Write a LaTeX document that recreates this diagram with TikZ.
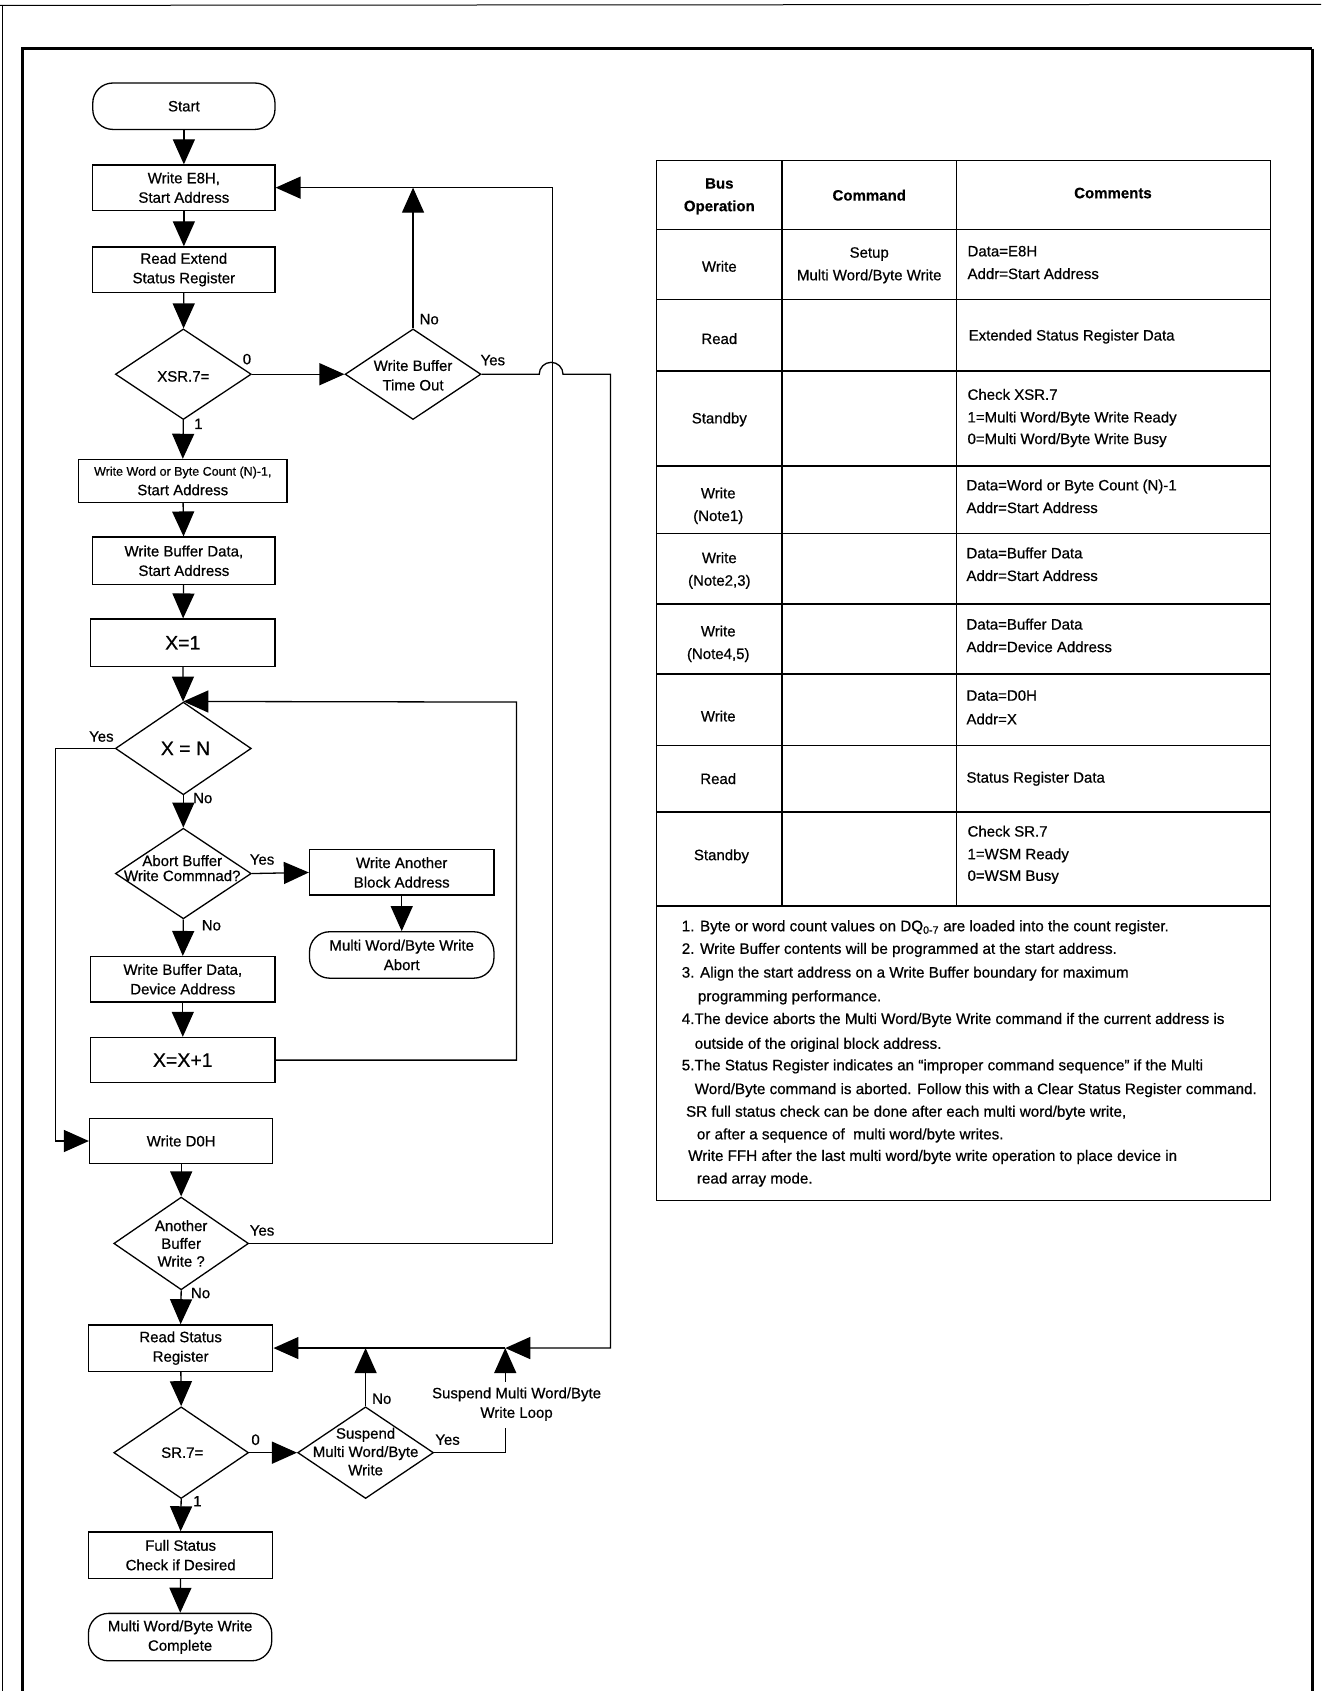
\documentclass[tikz,border=0pt]{standalone}
\usepackage{fontspec}
\setmainfont{Liberation Sans}[FakeBold=0.6]
\usetikzlibrary{arrows.meta,shapes.geometric}
\newcommand\fBox{\fontsize{15}{19.5}\selectfont}
\newcommand\fBig{\fontsize{19.5}{22}\selectfont}
\newcommand\fSmall{\fontsize{12.5}{19.5}\selectfont}
\newcommand\fTab{\fontsize{15}{22.6}\selectfont}
\newcommand\fNote{\fontsize{15.2}{22}\selectfont}
\begin{document}
\begin{tikzpicture}[x=1.0784pt,y=-1.0784pt,
  ln/.style={line width=1.3pt},
  arr/.style={ln,-{Triangle[length=25pt,width=22pt]}},
  box/.style={draw,ln,rectangle,align=center,inner sep=0pt,font=\fBox},
  term/.style={box,rounded corners=20pt},
  dia/.style={draw,ln,diamond,inner sep=0pt},
  txt/.style={align=center,inner sep=0pt,font=\fBox},
  lab/.style={inner sep=0pt,font=\fBox},
  cell/.style={align=center,inner sep=0pt,font=\fTab},
  cmt/.style={anchor=west,inner sep=0pt,font=\fTab,text height=11pt,text depth=3pt},
  note/.style={anchor=west,inner sep=0pt,font=\fNote,text height=10.5pt,text depth=3pt},
]
\useasboundingbox (0,0) rectangle (1225,1568);
% page frames
\draw[line width=1pt] (0,5) -- (1225,4);
\draw[line width=1pt] (2.5,5) -- (2.5,1568);
\draw[line width=3.5pt] (21,1568) -- (21,45) -- (1217,45);
\draw[line width=2.2pt] (1217,45) -- (1217,1568);

% ---------- flowchart nodes ----------
\node[term,minimum width=182.2pt,minimum height=46.4pt] (start) at (170.5,98.5) {Start};
\node[box,minimum width=182.2pt,minimum height=45.3pt] (we8) at (170.5,174) {Write E8H,\\Start Address};
\node[box,minimum width=182.2pt,minimum height=45.3pt] (rex) at (170.5,250) {Read Extend\\Status Register};
\node[dia,minimum width=135.9pt,minimum height=90.6pt] (xsr) at (170,347) {};
\node[txt] (xsrT) at (170,349) {XSR.7=};
\node[dia,minimum width=135.9pt,minimum height=90.6pt] (wbto) at (383,347) {};
\node[txt] (wbtoT) at (383,348) {Write Buffer\\Time Out};
\node[box,minimum width=208.1pt,minimum height=43.1pt] (wwc) at (169.5,446) {{\fSmall Write Word or Byte Count (N)-1,}\\Start Address};
\node[box,minimum width=182.2pt,minimum height=47.4pt] (wbs) at (170.5,520) {Write Buffer Data,\\Start Address};
\node[box,minimum width=184.4pt,minimum height=47.4pt,font=\fBig] (x1) at (169.5,596) {X=1};
\node[dia,minimum width=135.9pt,minimum height=92.7pt] (xn) at (170,694) {};
\node[txt,font=\fBig] (xnT) at (172,694) {X = N};
\node[dia,minimum width=135.9pt,minimum height=90.6pt] (abort) at (170,810) {};
\node[txt,font=\fontsize{15}{15}\selectfont] (abortT) at (169,805) {Abort Buffer\\Write Commnad?};
\node[box,minimum width=184.4pt,minimum height=45.3pt] (wab) at (372.5,809) {Write Another\\Block Address};
\node[term,minimum width=184.4pt,minimum height=46.4pt] (mwa) at (372.5,885.5) {Multi Word/Byte Write\\Abort};
\node[box,minimum width=184.4pt,minimum height=45.3pt] (wbd) at (169.5,908) {Write Buffer Data,\\Device Address};
\node[box,minimum width=184.4pt,minimum height=45.3pt,font=\fBig] (xx1) at (169.5,983) {X=X+1};
\node[box,minimum width=183.3pt,minimum height=45.3pt] (wd0) at (168,1058) {Write D0H};
\node[dia,minimum width=134.8pt,minimum height=92.7pt] (abw) at (168,1153) {};
\node[txt,font=\fontsize{15}{17.8}\selectfont] (abwT) at (168,1153) {Another\\Buffer\\Write ?};
\node[box,minimum width=184.4pt,minimum height=46.4pt] (rsr) at (167.5,1250) {Read Status\\Register};
\node[dia,minimum width=134.8pt,minimum height=91.7pt] (sr7) at (168,1347) {};
\node[txt] (sr7T) at (169,1347) {SR.7=};
\node[dia,minimum width=135.9pt,minimum height=91.7pt] (susp) at (339,1347) {};
\node[txt,font=\fontsize{15}{18.3}\selectfont] (suspT) at (339,1346) {Suspend\\Multi Word/Byte\\Write};
\node[box,minimum width=184.4pt,minimum height=46.4pt] (fsc) at (167.5,1442) {Full Status\\Check if Desired};
\node[term,minimum width=183.3pt,minimum height=47.4pt] (done) at (167,1518) {Multi Word/Byte Write\\Complete};

% helper coordinates
\coordinate (jn) at (468.5,1250);
\coordinate (sb) at (468.5,1324);
\coordinate (st) at (468.5,1281);
\coordinate (ar) at (512,174);
\coordinate (xr) at (479,651);
\coordinate (xl) at (51.6,694);
\node[txt] (sl) at (479,1302) {Suspend Multi Word/Byte\\Write Loop};

% ---------- connectors ----------
\draw[arr] (start) -- (we8);
\draw[arr] (we8) -- (rex);
\draw[arr] (rex) -- (xsr);
\draw[arr] (xsr.east) -- (wbto.west);
\draw[arr] (xsr.south) -- (wwc.north);
\draw[arr] (wbto.north) -- (wbto.north |- we8.east);
\draw[arr] (wbto.east) -- (500,347) arc[start angle=180,end angle=0,radius=11.9pt] -- (566,347) -- (566,1250) -- (jn);
\draw[arr] (jn) -- (rsr.east);
\draw[arr] (wwc) -- (wbs);
\draw[arr] (wbs) -- (x1);
\draw[arr] (x1) -- (xn);
\draw[arr] (xn.west) -- (xl) |- (wd0.west);
\draw[arr] (xn.south) -- (abort.north);
\draw[arr] (abort.east) -- (wab.west);
\draw[arr] (wab) -- (mwa);
\draw[arr] (abort.south) -- (wbd.north);
\draw[arr] (wbd) -- (xx1);
\draw[arr] (xx1.east) -| (xr) -- (xn.north);
\draw[arr] (wd0) -- (abw.north);
\draw[arr] (abw.east) -| (ar) -- (we8.east);
\draw[arr] (abw.south) -- (rsr.north);
\draw[arr] (rsr) -- (sr7.north);
\draw[arr] (sr7.east) -- (susp.west);
\draw[arr] (sr7.south) -- (fsc.north);
\draw[arr] (susp.north) -- (susp.north |- rsr.east);
\draw[ln] (susp.east) -- (susp.east -| sb) -- (sb);
\draw[arr] (st) -- (jn);
\draw[arr] (fsc) -- (done);

% ---------- branch labels ----------
\node[lab] (l1) at (229,333) {0};
\node[lab] (l2) at (184,393) {1};
\node[lab] (l3) at (398,296) {No};
\node[lab] (l4) at (457,334) {Yes};
\node[lab] (l5) at (94,683) {Yes};
\node[lab] (l6) at (188,740) {No};
\node[lab] (l7) at (243,797) {Yes};
\node[lab] (l8) at (196,858) {No};
\node[lab] (l9) at (243,1141) {Yes};
\node[lab] (l10) at (186,1199) {No};
\node[lab] (l11) at (237,1335) {0};
\node[lab] (l12) at (183,1392) {1};
\node[lab] (l13) at (354,1297) {No};
\node[lab] (l14) at (415,1335) {Yes};

% ---------- table ----------
\draw[ln] (609,149) rectangle (1178,1113);
\foreach \yy in {213,278,344,432,495,560,625,691,753,840} \draw[ln] (609,\yy) -- (1178,\yy);
\draw[ln] (725,149) -- (725,840);
\draw[ln] (887,149) -- (887,840);

\node[cell,font=\fTab\bfseries,align=center] (h1) at (667,182) {Bus\\Operation};
\node[cell,font=\fTab\bfseries] (h2) at (806,181) {Command};
\node[cell,font=\fTab\bfseries] (h3) at (1032,179) {Comments};

\node[cell] (b1) at (667,247) {Write};
\node[cell] (b2) at (667,314) {Read};
\node[cell] (b3) at (667,389) {Standby};
\node[cell] (b4) at (666,469) {Write\\(Note1)};
\node[cell] (b5) at (667,529) {Write\\(Note2,3)};
\node[cell] (b6) at (666,597) {Write\\(Note4,5)};
\node[cell] (b7) at (666,664) {Write};
\node[cell] (b8) at (666,722) {Read};
\node[cell] (b9) at (669,794) {Standby};

\node[cell,font=\fontsize{15}{22.6}\selectfont] (c1) at (806,246) {Setup\\Multi Word/Byte Write};

\node[cmt] (m1a) at (897,234) {Data=E8H};
\node[cmt] (m1b) at (897,255) {Addr=Start Address};
\node[cmt] (m2) at (898,312) {Extended Status Register Data};
\node[cmt] (m3a) at (897,367) {Check XSR.7};
\node[cmt] (m3b) at (897,388) {1=Multi Word/Byte Write Ready};
\node[cmt] (m3c) at (897,408) {0=Multi Word/Byte Write Busy};
\node[cmt] (m4a) at (896,451) {Data=Word or Byte Count (N)-1};
\node[cmt] (m4b) at (896,472) {Addr=Start Address};
\node[cmt] (m5a) at (896,514) {Data=Buffer Data};
\node[cmt] (m5b) at (896,535) {Addr=Start Address};
\node[cmt] (m6a) at (896,580) {Data=Buffer Data};
\node[cmt] (m6b) at (896,601) {Addr=Device Address};
\node[cmt] (m7a) at (896,646) {Data=D0H};
\node[cmt] (m7b) at (896,668) {Addr=X};
\node[cmt] (m8) at (896,722) {Status Register Data};
\node[cmt] (m9a) at (897,772) {Check SR.7};
\node[cmt] (m9b) at (897,793) {1=WSM Ready};
\node[cmt] (m9c) at (897,813) {0=WSM Busy};

\node[note] (n1) at (632,860) {1. Byte or word count values on DQ\textsubscript{0-7} are loaded into the count register.};
\node[note] (n2) at (632,881) {2. Write Buffer contents will be programmed at the start address.};
\node[note] (n3) at (632,903) {3. Align the start address on a Write Buffer boundary for maximum};
\node[note] (n3b) at (647,925) {programming performance.};
\node[note] (n4) at (632,946) {4.The device aborts the Multi Word/Byte Write command if the current address is};
\node[note] (n4b) at (644,969) {outside of the original block address.};
\node[note] (n5) at (632,989) {5.The Status Register indicates an ``improper command sequence'' if the Multi};
\node[note] (n5b) at (644,1011) {Word/Byte command is aborted. Follow this with a Clear Status Register command.};
\node[note] (n6) at (636,1032) {SR full status check can be done after each multi word/byte write,};
\node[note] (n6b) at (646,1053) {or after a sequence of\ \ multi word/byte writes.};
\node[note] (n7) at (638,1073) {Write FFH after the last multi word/byte write operation to place device in};
\node[note] (n7b) at (646,1094) {read array mode.};
\end{tikzpicture}
\end{document}
